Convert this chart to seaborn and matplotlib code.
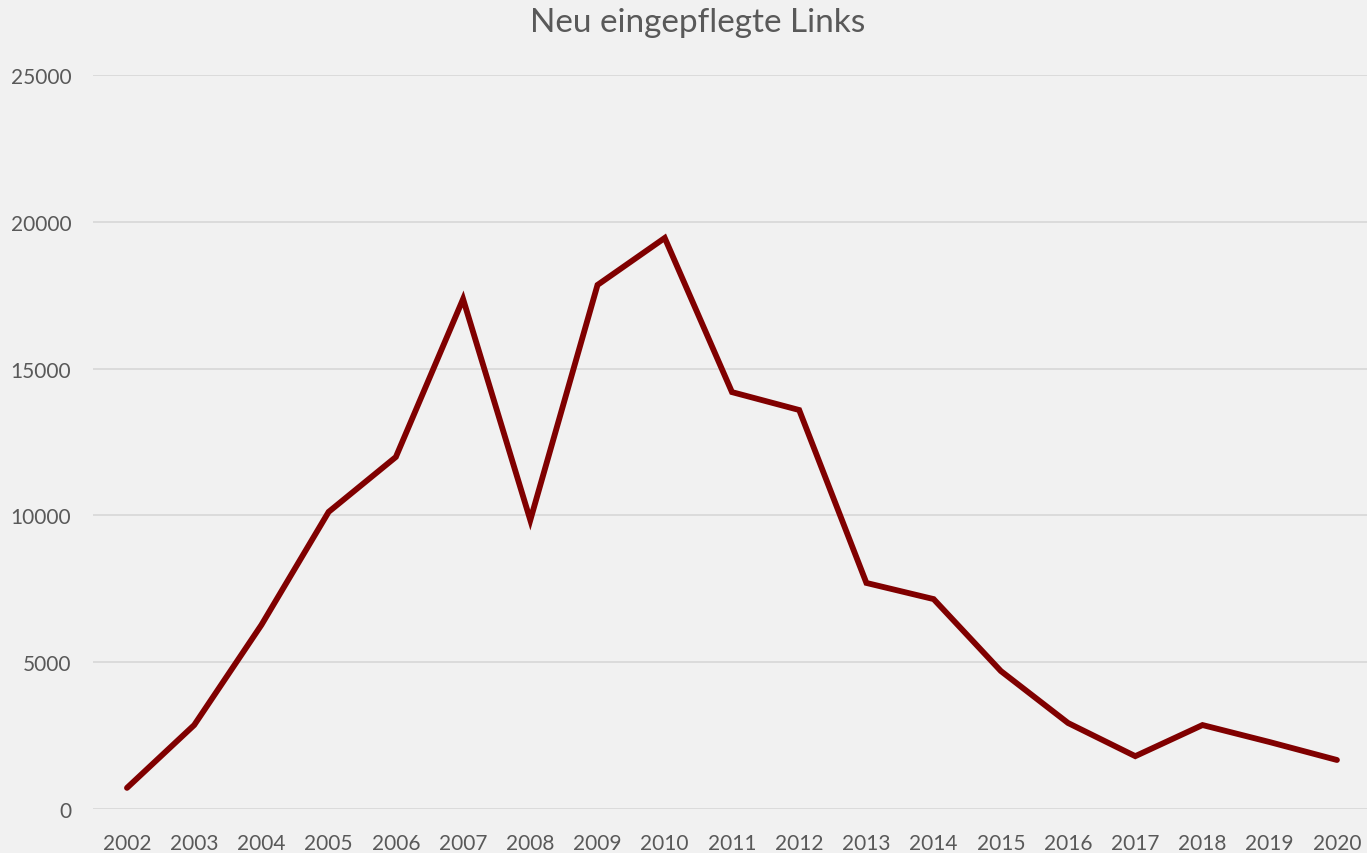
import matplotlib
matplotlib.use("Agg")
import matplotlib.pyplot as plt
import seaborn as sns
import pandas as pd

years = list(range(2002, 2021))
links = [720, 2860, 6270, 10120, 11990, 17370, 9840, 17850, 19450, 14200,
         13590, 7700, 7150, 4700, 2930, 1800, 2860, 2280, 1670]
y_ticks = [0, 5000, 10000, 15000, 20000, 25000]
title = "Neu eingepflegte Links"

df = pd.DataFrame({"Jahr": years, "Links": links})

sns.set_style("white")
plt.rcParams["font.family"] = ["Lato", "DejaVu Sans"]

fig = plt.figure(figsize=(13.67, 8.54), dpi=100)
fig.patch.set_facecolor("#f1f1f1")
ax = fig.add_axes([0.0683, 0.0515, 0.9343, 0.8595])
ax.set_facecolor("#f1f1f1")

for t in y_ticks:
    ax.axhline(t, color="#d9d9d9", lw=1.3, zorder=1)

sns.lineplot(data=df, x="Jahr", y="Links", ax=ax, color="#800000", lw=4.2,
             solid_capstyle="round", solid_joinstyle="miter", zorder=3)

ax.set_xlim(2001.5, 2020.5)
ax.set_ylim(0, 25000)
ax.set_xticks(years)
ax.set_xticklabels([str(y) for y in years])
ax.set_yticks(y_ticks)
ax.set_yticklabels([str(t) for t in y_ticks])
ax.tick_params(axis="both", length=0, labelsize=15, colors="#595959")
ax.tick_params(axis="x", pad=17)
ax.tick_params(axis="y", pad=16)
ax.set_xlabel("")
ax.set_ylabel("")
for s in ax.spines.values():
    s.set_visible(False)

fig.text(0.51, 0.973, title, ha="center", va="center", fontsize=24, color="#595959")

fig.savefig("out.png", dpi=100, facecolor=fig.get_facecolor())
